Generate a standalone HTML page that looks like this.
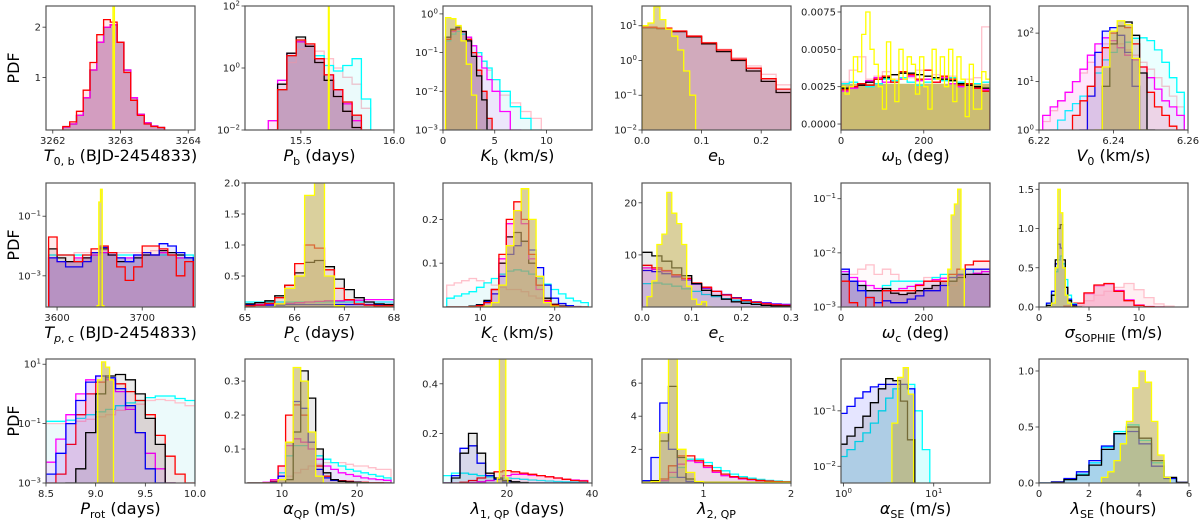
<!DOCTYPE html>
<html><head><meta charset="utf-8"><style>
html,body{margin:0;padding:0;background:#fff;}
svg{display:block;font-family:"DejaVu Sans","Liberation Sans",sans-serif;}
</style></head><body>
<svg id="fig" width="1200" height="520" viewBox="0 0 1200 520" xmlns="http://www.w3.org/2000/svg"></svg>
<script>
// ---------- data (bin centres and PDF values) ----------
const p1x=[3262.2,3262.3,3262.4,3262.5,3262.6,3262.7,3262.8,3262.9,3263.0,3263.1,3263.2,3263.3,3263.4,3263.5,3263.6];
const p1fill=[0.02,0.08,0.25,0.6,1.15,1.7,2.0,2.05,1.7,1.15,0.6,0.27,0.1,0.04,0.01];
const p1red=[0.03,0.12,0.33,0.75,1.3,1.85,2.15,2.1,1.7,1.1,0.55,0.25,0.08,0.03,0.01];
const p1yx=[3262.9];const p1yel=[3];

const p2x=[15.35,15.4,15.45,15.5,15.55,15.6,15.65,15.7,15.75,15.8,15.85,15.9];
const p2black=[0.01,0.3,3,10,5,1.5,0.4,0.12,0.04,0.012,0.004,0.001];
const p2red=[0.01,0.2,2.5,8,6,2,0.6,0.2,0.08,0.03,0.01,0.002];
const p2mag=[0.02,0.4,3,7,5,2,0.6,0.2,0.07,0.02,0.006,0.001];
const p2cyan=[0.01,0.2,2.5,7,5,2.5,1.2,0.8,1.2,2,0.1,0.005];
const p2pink=[0.02,0.2,1.5,4,5,3.5,2,1,0.5,0.3,0.05,0.01];
const p2yx=[15.65];const p2yel=[200];

const p3x=[0.5,1,1.5,2,2.5,3,3.5,4,4.5,5,6,7,8,9];
const p3yel=[0.8,0.75,0.5,0.2,0.05,0.008,0.001,0.0001,0,0,0,0,0,0];
const p3black=[0.25,0.4,0.45,0.35,0.2,0.08,0.025,0.006,0.001,0.0002,0,0,0,0];
const p3red=[0.22,0.38,0.42,0.35,0.22,0.1,0.035,0.01,0.002,0.0004,0,0,0,0];
const p3mag=[0.25,0.35,0.4,0.35,0.25,0.15,0.08,0.04,0.02,0.01,0.003,0.001,0,0];
const p3cyan=[0.2,0.3,0.35,0.3,0.25,0.15,0.1,0.06,0.04,0.02,0.01,0.004,0.002,0.001];
const p3pink=[0.2,0.3,0.33,0.3,0.22,0.15,0.1,0.06,0.035,0.02,0.008,0.005,0.003,0.002];

const p4x=[0.0125,0.0375,0.0625,0.0875,0.1125,0.1375,0.1625,0.1875,0.2125,0.2375];
const p4red=[9,8.5,7,5,3.2,2,1.1,0.6,0.3,0.15];
const p4black=[8.8,8.3,6.8,4.8,3,1.8,1,0.5,0.25,0.12];
const p4pink=[9.5,8.6,7.2,5.2,3.3,2.1,1.2,0.7,0.4,0.2];
const p4yx=[0.005,0.015,0.025,0.035,0.045,0.055,0.065,0.075,0.085,0.095];
const p4yel=[10,12,35,15,8,5,2,0.5,0.1,0.01];

const p5x=[10,30,50,70,90,110,130,150,170,190,210,230,250,270,290,310,330,350];
const p5base=[0.0027,0.0027,0.0027,0.0027,0.0027,0.0027,0.0027,0.0027,0.0027,0.0027,0.0027,0.0027,0.0027,0.0027,0.0027,0.0027,0.0027,0.0027];
const p5red=[0.0023,0.0025,0.0027,0.0026,0.003,0.0032,0.0028,0.0035,0.0033,0.003,0.0036,0.0028,0.0032,0.003,0.0026,0.0027,0.0024,0.0022];
const p5black=[0.0024,0.0025,0.0026,0.0028,0.003,0.0031,0.0033,0.0034,0.0034,0.0033,0.0032,0.0031,0.003,0.0029,0.0027,0.0026,0.0025,0.0024];
const p5cyan=[0.0027,0.0028,0.0026,0.0025,0.0027,0.003,0.0029,0.0031,0.0028,0.0026,0.0028,0.003,0.0029,0.0031,0.0028,0.0026,0.0027,0.0028];
const p5mag=[0.0022,0.0024,0.0026,0.0029,0.0031,0.0028,0.0033,0.003,0.0032,0.0029,0.003,0.0028,0.0031,0.0027,0.0025,0.0026,0.0024,0.0023];
const p5pink=[0.0028,0.0036,0.0045,0.003,0.0032,0.0035,0.003,0.0034,0.0031,0.0036,0.003,0.0033,0.0029,0.0032,0.0028,0.003,0.0031,0.0065];
const p5yx=[5,15,25,35,45,55,65,75,85,95,105,115,125,135,145,155,165,175,185,195,205,215,225,235,245,255,265,275,285,295,305,315,325,335,345,355];
const p5yel=[0.0025,0.002,0.0025,0.0045,0.0035,0.006,0.0075,0.005,0.004,0.0025,0.001,0.0055,0.003,0.0015,0.005,0.003,0.0045,0.004,0.002,0.0045,0.0025,0.001,0.005,0.003,0.0045,0.0025,0.005,0.0015,0.0045,0.003,0.0005,0.004,0.001,0.001,0.0035,0.003];

const p6x=[6.222,6.224,6.226,6.228,6.230,6.232,6.234,6.236,6.238,6.240,6.242,6.244,6.246,6.248,6.250,6.252,6.254,6.256,6.258];
const p6mag=[2,3,4,6,10,18,35,60,80,70,50,35,28,20,12,7,4,3,2];
const p6cyan=[0.8,1,1.6,2.5,3.5,5,8,15,28,40,50,65,78,80,70,45,25,12,6];
const p6blue=[0,0,0,0,0.5,1,5,40,110,130,90,40,8,1,0,0,0,0,0];
const p6black=[0,0,0,0,0,0,0,0.5,8,60,140,170,90,15,1,0,0,0,0];
const p6red=[0,0,0,0.8,2,4,8,20,50,100,140,130,60,20,6,3,2,1.2,1];
const p6pink=[1.5,2.5,4,6,10,15,25,40,60,70,60,45,35,25,18,12,8,5,3];
const p6yel=[0,0,0,0,0,0,0,1,20,110,180,150,30,1,0,0,0,0,0];

const p7x=[3595,3605,3615,3625,3635,3645,3655,3665,3675,3685,3695,3705,3715,3725,3735,3745,3755];
const p7red=[0.02,0.005,0.005,0.003,0.005,0.008,0.01,0.006,0.002,0.0007,0.002,0.01,0.01,0.008,0.005,0.001,0.003];
const p7blue=[0.004,0.003,0.002,0.002,0.003,0.006,0.009,0.006,0.004,0.003,0.005,0.006,0.005,0.012,0.01,0.006,0.004];
const p7black=[0.008,0.004,0.003,0.003,0.004,0.006,0.008,0.005,0.003,0.003,0.004,0.005,0.005,0.007,0.006,0.005,0.004];
const p7cyan=[0.005,0.005,0.005,0.005,0.005,0.005,0.006,0.005,0.005,0.005,0.005,0.005,0.005,0.005,0.005,0.005,0.005];
const p7mag=[0.004,0.003,0.003,0.004,0.004,0.005,0.006,0.005,0.004,0.004,0.005,0.005,0.005,0.006,0.005,0.004,0.004];
const p7pink=[0.005,0.005,0.005,0.006,0.006,0.006,0.007,0.006,0.006,0.006,0.006,0.006,0.007,0.006,0.006,0.005,0.005];
const p7yx=[3648,3650,3652,3654];const p7yel=[0.0001,0.3,0.8,0.0001];

const p8x=[65.1,65.3,65.5,65.7,65.9,66.1,66.3,66.5,66.7,66.9,67.1,67.3,67.5,67.7,67.9];
const p8black=[0.05,0.07,0.1,0.18,0.35,0.55,0.72,0.75,0.65,0.45,0.28,0.15,0.08,0.05,0.04];
const p8red=[0.02,0.03,0.06,0.15,0.35,0.7,1.0,0.95,0.6,0.3,0.12,0.05,0.03,0.02,0.02];
const p8yel=[0,0,0,0.05,0.3,0.5,1.8,2.1,0.5,0.02,0,0,0,0,0];
const p8cyan=[0.08,0.08,0.08,0.08,0.08,0.08,0.08,0.08,0.08,0.08,0.08,0.08,0.08,0.08,0.08];
const p8mag=[0.04,0.04,0.05,0.05,0.06,0.07,0.08,0.09,0.1,0.1,0.11,0.11,0.12,0.12,0.12];
const p8blue=[0.03,0.03,0.03,0.03,0.04,0.04,0.04,0.04,0.04,0.04,0.04,0.04,0.04,0.04,0.04];

const p9x=[6,7,8,9,10,11,12,13,14,15,16,17,18,19,20,21,22,23,24];
const p9red=[0,0,0,0.001,0.003,0.01,0.04,0.12,0.2,0.24,0.2,0.12,0.05,0.015,0.004,0.001,0,0,0];
const p9yel=[0,0,0,0,0,0.002,0.01,0.05,0.14,0.22,0.27,0.2,0.07,0.01,0.002,0,0,0,0];
const p9black=[0,0,0,0.002,0.005,0.015,0.04,0.1,0.16,0.17,0.15,0.1,0.05,0.02,0.006,0.002,0,0,0];
const p9blue=[0,0,0,0.002,0.005,0.012,0.03,0.07,0.12,0.14,0.15,0.13,0.09,0.05,0.02,0.008,0.003,0.001,0];
const p9mag=[0,0,0,0.001,0.003,0.01,0.04,0.11,0.19,0.22,0.19,0.11,0.04,0.012,0.003,0.001,0,0,0];
const p9cyan=[0.02,0.025,0.03,0.035,0.045,0.055,0.065,0.075,0.082,0.085,0.082,0.075,0.065,0.052,0.04,0.03,0.02,0.014,0.01];
const p9pink=[0.05,0.055,0.06,0.065,0.06,0.055,0.05,0.045,0.04,0.04,0.035,0.025,0.02,0.012,0.008,0.005,0.003,0.002,0.001];

const p10x=[0.01,0.03,0.05,0.07,0.09,0.11,0.13,0.15,0.17,0.19,0.21,0.23,0.25,0.27,0.29];
const p10black=[10.5,9.8,8.8,7.5,6,4.5,3.2,2.2,1.5,1,0.7,0.5,0.3,0.2,0.15];
const p10red=[8,7.5,7,6.2,5.5,4.6,3.8,3,2.3,1.7,1.2,0.9,0.6,0.4,0.3];
const p10blue=[7,6.8,6.4,5.8,5.2,4.4,3.6,3,2.4,1.8,1.4,1,0.8,0.6,0.5];
const p10mag=[7.5,7.2,6.8,6,5.3,4.5,3.7,3,2.3,1.7,1.3,0.9,0.7,0.5,0.4];
const p10cyan=[4.5,4.6,4.4,4,3.5,3,2.4,2,1.6,1.3,1,0.8,0.6,0.5,0.4];
const p10yx=[0.015,0.025,0.035,0.045,0.055,0.065,0.075,0.085,0.095,0.105,0.115,0.125,0.135];
const p10yel=[2,5,12,14,22,18,16,12,4,1.5,0.5,1,0];

const p11x=[10,30,50,70,90,110,130,150,170,190,210,230,250,270,290,310,330,350];
const p11blue=[0.005,0.003,0.002,0.0015,0.0012,0.0013,0.0012,0.0012,0.0014,0.0016,0.002,0.002,0.0025,0.0035,0.004,0.005,0.005,0.005];
const p11red=[0.003,0.0012,0.0009,0.0015,0.0008,0.002,0.002,0.002,0.002,0.0025,0.003,0.003,0.003,0.004,0.005,0.006,0.007,0.007];
const p11cyan=[0.004,0.003,0.0025,0.002,0.002,0.0025,0.003,0.003,0.003,0.003,0.003,0.0035,0.004,0.004,0.004,0.005,0.004,0.004];
const p11black=[0.004,0.003,0.0025,0.002,0.002,0.0022,0.0018,0.0017,0.0018,0.002,0.0022,0.0025,0.003,0.003,0.0035,0.004,0.004,0.004];
const p11mag=[0.0045,0.0035,0.003,0.0025,0.0022,0.002,0.002,0.0022,0.0024,0.0026,0.003,0.0032,0.0034,0.0035,0.0038,0.004,0.0042,0.0045];
const p11pink=[0.003,0.004,0.005,0.006,0.004,0.005,0.004,0.003,0.003,0.003,0.0035,0.0035,0.003,0.0025,0.003,0.004,0.005,0.004];
const p11yx=[262,270,278,286,294];const p11yel=[0.005,0.05,0.08,0.15,0.005];

const p12ax=[1.0,1.5,1.75,2.0,2.25,2.5,2.75,3.0,3.5,4.0];
const p12black=[0.02,0.15,0.6,1.0,1.05,0.6,0.25,0.08,0.01,0];
const p12blue=[0.05,0.2,0.55,0.8,0.75,0.5,0.25,0.1,0.03,0];
const p12cyan=[0.05,0.2,0.45,0.6,0.65,0.55,0.35,0.15,0.04,0];
const p12yel=[0,0.05,0.5,1.5,1.2,0.5,0.15,0.05,0,0];
const p12bx=[3,4,5,6,7,8,9,10,11,12];
const p12red=[0.01,0.05,0.18,0.28,0.3,0.2,0.08,0.02,0.005,0];
const p12mag=[0.01,0.05,0.17,0.27,0.29,0.21,0.09,0.025,0.006,0];
const p12px=[4,5,6,7,8,9,10,11,12,13];
const p12pink=[0.02,0.08,0.15,0.2,0.25,0.3,0.22,0.12,0.04,0.01];

const p13x=[8.55,8.65,8.75,8.85,8.95,9.05,9.15,9.25,9.35,9.45,9.55,9.65,9.75,9.85,9.95];
const p13black=[0.0005,0.0008,0.001,0.003,0.05,1,4,4.5,3,1,0.15,0.02,0.001,0,0];
const p13blue=[0.002,0.01,0.1,0.6,2.5,4,3.5,1.5,0.4,0.05,0.003,0.001,0,0,0];
const p13mag=[0.005,0.03,0.2,1,3,4,3,1.2,0.3,0.05,0.01,0.003,0.001,0,0];
const p13red=[0.001,0.002,0.02,0.2,1,2.5,3,2.2,1.2,0.6,0.2,0.04,0.008,0.002,0.001];
const p13cyan=[0.12,0.12,0.13,0.15,0.2,0.25,0.3,0.4,0.5,0.6,0.75,0.85,0.85,0.7,0.6];
const p13pink=[0.1,0.1,0.1,0.12,0.14,0.17,0.2,0.28,0.35,0.45,0.6,0.65,0.6,0.5,0.4];
const p13yx=[8.96,9.0,9.04,9.08,9.12,9.16,9.2,9.24];
const p13yel=[0.0001,0.001,3,12,8,3,0.001,0.0001];

const p14x=[6,7,8,9,10,11,12,13,14,15,16,17,18,19,20,21,22,23,24];
const p14black=[0,0,0,0,0,0.01,0.15,0.33,0.25,0.1,0.03,0.01,0.005,0.003,0.002,0.001,0,0,0];
const p14yel=[0,0,0,0,0.01,0.12,0.34,0.3,0.15,0.02,0,0,0,0,0,0,0,0,0];
const p14blue=[0,0,0,0.002,0.02,0.12,0.24,0.22,0.12,0.04,0.015,0.008,0.005,0.003,0.002,0.001,0,0,0];
const p14red=[0,0,0.001,0.005,0.05,0.2,0.23,0.2,0.12,0.05,0.02,0.01,0.007,0.005,0.003,0.002,0.001,0.001,0];
const p14mag=[0,0,0.002,0.01,0.05,0.11,0.13,0.12,0.1,0.07,0.05,0.04,0.03,0.025,0.02,0.015,0.012,0.01,0.008];
const p14cyan=[0,0,0,0.005,0.03,0.08,0.11,0.11,0.1,0.08,0.07,0.06,0.05,0.04,0.035,0.03,0.025,0.02,0.015];
const p14pink=[0,0,0,0.005,0.01,0.02,0.03,0.04,0.05,0.055,0.06,0.06,0.06,0.055,0.05,0.05,0.045,0.04,0.04];

const p15x=[6,8,10,12,14,16,18,20,22,24,26,28,30,32,34,36,38];
const p15black=[0,0.02,0.12,0.2,0.12,0.04,0.02,0.01,0.005,0.002,0,0,0,0,0,0,0];
const p15blue=[0,0.03,0.14,0.15,0.08,0.03,0.015,0.005,0.002,0,0,0,0,0,0,0,0];
const p15cyan=[0.03,0.04,0.04,0.035,0.03,0.025,0.02,0.02,0.018,0.015,0.012,0.01,0.008,0.006,0.005,0.004,0.003];
const p15red=[0,0,0.003,0.01,0.02,0.04,0.045,0.05,0.045,0.04,0.035,0.03,0.025,0.02,0.015,0.01,0.008];
const p15mag=[0,0,0,0.002,0.005,0.01,0.02,0.03,0.035,0.035,0.032,0.03,0.025,0.02,0.015,0.012,0.01];
const p15yx=[18,18.5,19,19.5,20,20.5];const p15yel=[0.02,0.6,0.6,0.6,0.02,0];

const p16x=[0.35,0.45,0.55,0.65,0.75,0.85,0.95,1.05,1.15,1.25,1.35,1.45,1.55,1.65,1.75,1.85,1.95];
const p16blue=[0.1,1.5,4.8,2,0.3,0.05,0,0,0,0,0,0,0,0,0,0,0];
const p16black=[0,0.1,2.5,5.8,1.5,0.2,0.02,0,0,0,0,0,0,0,0,0,0];
const p16yel=[0,0.05,3,7.5,2,0.6,0.05,0,0,0,0,0,0,0,0,0,0];
const p16red=[0,0,0.2,1,1.6,1.6,1.3,1,0.7,0.5,0.35,0.25,0.18,0.12,0.08,0.05,0.03];
const p16mag=[0,0,0.1,0.6,1.1,1.3,1.2,0.9,0.6,0.4,0.3,0.2,0.15,0.1,0.05,0.03,0.02];
const p16cyan=[0,0,0,0.3,0.9,1.4,1.4,1.2,0.9,0.7,0.5,0.35,0.25,0.18,0.12,0.08,0.05];

const p17x=[1,1.2,1.5,1.8,2.2,2.7,3.2,3.9,4.7,5.6,6.8,8.2,10];
const p17blue=[0.09,0.12,0.17,0.22,0.27,0.3,0.3,0.3,0.3,0.25,0.002,0,0];
const p17black=[0.025,0.035,0.05,0.08,0.14,0.25,0.38,0.35,0.15,0.03,0.002,0,0];
const p17cyan=[0.015,0.02,0.028,0.04,0.06,0.1,0.17,0.25,0.3,0.3,0.1,0.02,0.003];
const p17yx=[3.2,3.7,4.3,4.9,5.6,6.4];const p17yel=[0.005,0.06,0.4,0.6,0.2,0.005];

const p18x=[0.25,0.75,1.25,1.75,2.25,2.75,3.25,3.75,4.25,4.75,5.25,5.75];
const p18blue=[0,0.01,0.04,0.1,0.2,0.33,0.44,0.46,0.35,0.15,0.04,0.005];
const p18black=[0,0.005,0.03,0.07,0.16,0.3,0.44,0.5,0.4,0.2,0.05,0.005];
const p18cyan=[0,0.005,0.03,0.08,0.18,0.32,0.46,0.52,0.38,0.18,0.04,0.003];
const p18yx=[2.625,2.875,3.125,3.375,3.625,3.875,4.125,4.375,4.625,4.875,5.125];
const p18yel=[0.05,0.1,0.2,0.35,0.55,0.85,1.0,0.9,0.55,0.25,0.05];

// ---------- colours ----------
const K='#000000',B='#0000ff',M='#ff00ff',R='#ff0000',C='#00ffff',P='#ffc0cb',Y='#ffff00',LIL='#c8a6cb',OLV='#c2b05c';
const S=(x,y,c,extra)=>Object.assign({x:x,y:y,c:c},extra||{});

// ---------- panel layout ----------
const colL=[46,245,443,642,841,1039], rowT=[6,183,359], PW=149, PH=124;
const sup=s=>`10<tspan baseline-shift="super" font-size="7">${s}</tspan>`;
const lab=(sym,sub,rest,subItalic)=>`<tspan font-style="italic">${sym}</tspan><tspan dy="4" font-size="11"${subItalic?'':''}>${sub}</tspan><tspan dy="-4">${rest}</tspan>`;
const panels=[
 {nm:'t0b',x:[3261.9,3264.1],y:[-0.04,2.42],xt:[3262,3263,3264],xl:['3262','3263','3264'],yt:[1,2],yl:['1','2'],
  lab:lab('T','0, b',' (BJD-2454833)'),
  s:[S(p1x,p1fill,LIL,{solid:1}),S(p1x,p1fill,K),S(p1x,p1fill,M),S(p1x,p1red,R),S(p1yx,p1yel,Y,{w:0.02,nofill:1})]},
 {nm:'pb',x:[15.2,16.0],y:[0.01,100],ly:1,xt:[15.5,16.0],xl:['15.5','16.0'],yt:[0.01,1,100],yl:[sup('−2'),sup('0'),sup('2')],
  lab:lab('P','b',' (days)'),
  s:[S(p2x,p2red,LIL,{solid:1}),S(p2x,p2pink,P),S(p2x,p2cyan,C),S(p2x,p2mag,M),S(p2x,p2black,K),S(p2x,p2red,R),S(p2yx,p2yel,Y,{w:0.004,nofill:1})]},
 {nm:'kb',x:[0,14.4],y:[0.001,1.6],ly:1,xt:[0,5,10],xl:['0','5','10'],yt:[0.001,0.01,0.1,1],yl:[sup('−3'),sup('−2'),sup('−1'),sup('0')],
  lab:lab('K','b',' (km/s)'),
  s:[S(p3x,p3red,LIL,{solid:1}),S(p3x,p3pink,P),S(p3x,p3cyan,C),S(p3x,p3mag,M),S(p3x,p3red,R),S(p3x,p3black,K),S(p3x,p3yel,Y,{fc:OLV})]},
 {nm:'eb',x:[0,0.25],y:[0.01,37],ly:1,xt:[0,0.1,0.2],xl:['0.0','0.1','0.2'],yt:[0.01,0.1,1,10],yl:[sup('−2'),sup('−1'),sup('0'),sup('1')],
  lab:lab('e','b',''),
  s:[S(p4x,p4red,LIL,{solid:1}),S(p4x,p4pink,P),S(p4x,p4black,K),S(p4x,p4red,R),S(p4yx,p4yel,Y,{fc:OLV})]},
 {nm:'omegab',x:[0,360],y:[-0.0004,0.0079],xt:[0,200],xl:['0','200'],yt:[0,0.0025,0.005,0.0075],yl:['0.0000','0.0025','0.0050','0.0075'],
  lab:lab('ω','b',' (deg)'),
  s:[S(p5x,p5base,OLV,{solid:1,so:0.85}),S(p5x,p5pink,P,{nofill:1}),S(p5x,p5cyan,C,{nofill:1}),S(p5x,p5mag,M,{nofill:1}),S(p5x,p5black,K,{nofill:1}),S(p5x,p5red,R,{nofill:1}),S(p5yx,p5yel,Y,{nofill:1})]},
 {nm:'v0',x:[6.22,6.26],y:[1,363],ly:1,xt:[6.22,6.24,6.26],xl:['6.22','6.24','6.26'],yt:[1,10,100],yl:[sup('0'),sup('1'),sup('2')],
  lab:lab('V','0',' (km/s)'),
  s:[S(p6x,p6pink,P),S(p6x,p6cyan,C),S(p6x,p6mag,M),S(p6x,p6blue,B),S(p6x,p6red,R),S(p6x,p6black,K),S(p6x,p6yel,Y,{fc:OLV})]},
 {nm:'tpc',x:[3587,3762],y:[0.00009,1.3],ly:1,xt:[3600,3700],xl:['3600','3700'],yt:[0.001,0.1],yl:[sup('−3'),sup('−1')],
  lab:'<tspan font-style="italic">T</tspan><tspan dy="4" font-size="11" font-style="italic">p</tspan><tspan font-size="11">, c</tspan><tspan dy="-4"> (BJD-2454833)</tspan>',
  s:[S(p7x,p7mag,LIL,{solid:1}),S(p7x,p7pink,P),S(p7x,p7cyan,C),S(p7x,p7mag,M),S(p7x,p7black,K),S(p7x,p7blue,B),S(p7x,p7red,R),S(p7yx,p7yel,Y,{fc:OLV})]},
 {nm:'pc',x:[65,68],y:[0,2.0],xt:[65,66,67,68],xl:['65','66','67','68'],yt:[0.5,1.0,1.5,2.0],yl:['0.5','1.0','1.5','2.0'],
  lab:lab('P','c',' (days)'),
  s:[S(p8x,p8cyan,C),S(p8x,p8mag,M),S(p8x,p8blue,B),S(p8x,p8black,K),S(p8x,p8red,R),S(p8x,p8yel,Y,{fc:OLV})]},
 {nm:'kc',x:[5,25],y:[0,0.283],xt:[10,20],xl:['10','20'],yt:[0.1,0.2],yl:['0.1','0.2'],
  lab:lab('K','c',' (km/s)'),
  s:[S(p9x,p9pink,P),S(p9x,p9cyan,C),S(p9x,p9blue,B),S(p9x,p9black,K),S(p9x,p9mag,M),S(p9x,p9red,R),S(p9x,p9yel,Y,{fc:OLV})]},
 {nm:'ec',x:[0,0.3],y:[0,23.8],xt:[0,0.1,0.2,0.3],xl:['0.0','0.1','0.2','0.3'],yt:[10,20],yl:['10','20'],
  lab:lab('e','c',''),
  s:[S(p10x,p10cyan,C),S(p10x,p10blue,B),S(p10x,p10mag,M),S(p10x,p10red,R),S(p10x,p10black,K),S(p10yx,p10yel,Y,{fc:OLV})]},
 {nm:'omegac',x:[0,360],y:[0.001,0.195],ly:1,xt:[0,200],xl:['0','200'],yt:[0.001,0.01,0.1],yl:[sup('−3'),sup('−2'),sup('−1')],
  lab:lab('ω','c',' (deg)'),
  s:[S(p11x,p11black,LIL,{solid:1}),S(p11x,p11pink,P),S(p11x,p11cyan,C),S(p11x,p11mag,M),S(p11x,p11black,K),S(p11x,p11blue,B),S(p11x,p11red,R),S(p11yx,p11yel,Y,{fc:OLV})]},
 {nm:'sigma-sophie',x:[0,14.9],y:[0,1.58],xt:[0,5,10],xl:['0','5','10'],yt:[0,0.5,1.0,1.5],yl:['0.0','0.5','1.0','1.5'],
  lab:lab('σ','SOPHIE',' (m/s)'),
  s:[S(p12px,p12pink,P,{fo:0.25}),S(p12bx,p12mag,M),S(p12bx,p12red,R,{fc:'#f7a8c0',fo:0.6}),S(p12ax,p12cyan,C),S(p12ax,p12blue,B),S(p12ax,p12black,K),S(p12ax,p12yel,Y,{fc:OLV})]},
 {nm:'prot',x:[8.5,10],y:[0.001,15],ly:1,xt:[8.5,9.0,9.5,10.0],xl:['8.5','9.0','9.5','10.0'],yt:[0.001,0.1,10],yl:[sup('−3'),sup('−1'),sup('1')],
  lab:lab('P','rot',' (days)'),
  s:[S(p13x,p13cyan,C),S(p13x,p13pink,P),S(p13x,p13red,R),S(p13x,p13mag,M),S(p13x,p13blue,B),S(p13x,p13black,K),S(p13yx,p13yel,Y,{fc:OLV})]},
 {nm:'alpha-qp',x:[5.1,24.9],y:[0,0.365],xt:[10,20],xl:['10','20'],yt:[0.1,0.2,0.3],yl:['0.1','0.2','0.3'],
  lab:lab('α','QP',' (m/s)'),
  s:[S(p14x,p14pink,P),S(p14x,p14cyan,C),S(p14x,p14mag,M),S(p14x,p14red,R),S(p14x,p14blue,B),S(p14x,p14black,K),S(p14x,p14yel,Y,{fc:OLV})]},
 {nm:'lambda1-qp',x:[5,40],y:[0,0.5],xt:[20,40],xl:['20','40'],yt:[0.2,0.4],yl:['0.2','0.4'],
  lab:lab('λ','1, QP',' (days)'),
  s:[S(p15x,p15cyan,C),S(p15x,p15mag,M),S(p15x,p15red,R),S(p15x,p15blue,B),S(p15x,p15black,K),S(p15yx,p15yel,Y,{fc:OLV})]},
 {nm:'lambda2-qp',x:[0.297,2],y:[-0.04,7.46],xt:[1,2],xl:['1','2'],yt:[2,4,6],yl:['2','4','6'],
  lab:lab('λ','2, QP',''),
  s:[S(p16x,p16cyan,C),S(p16x,p16mag,M),S(p16x,p16red,R),S(p16x,p16blue,B),S(p16x,p16black,K),S(p16x,p16yel,Y,{fc:OLV})]},
 {nm:'alpha-se',x:[0.94,42],lx:1,y:[0.005,0.86],ly:1,xt:[1,10],xl:[sup('0'),sup('1')],yt:[0.01,0.1],yl:[sup('−2'),sup('−1')],
  lab:lab('α','SE',' (m/s)'),
  s:[S(p17x,p17cyan,C,{fo:0.15}),S(p17x,p17blue,B,{fo:0.1}),S(p17x,p17black,K,{fo:0.1}),S(p17yx,p17yel,Y,{fc:OLV})]},
 {nm:'lambda-se',x:[0,5.96],y:[0,1.107],xt:[0,2,4,6],xl:['0','2','4','6'],yt:[0,0.5,1.0],yl:['0.0','0.5','1.0'],
  lab:lab('λ','SE',' (hours)'),
  s:[S(p18x,p18cyan,C,{fo:0.2}),S(p18x,p18blue,B,{fo:0.1}),S(p18x,p18black,K,{fo:0.08}),S(p18yx,p18yel,Y,{fc:OLV})]}
];

// ---------- rendering ----------
const svg=document.getElementById('fig');
const NS='http://www.w3.org/2000/svg';
function mk(tag,attrs,parent){const e=document.createElementNS(NS,tag);for(const k in attrs)e.setAttribute(k,attrs[k]);(parent||svg).appendChild(e);return e;}
const defs=mk('defs',{});

panels.forEach((p,i)=>{
  const L=colL[i%6],T=rowT[Math.floor(i/6)];
  const lx=v=>p.lx?Math.log10(v):v, ly=v=>p.ly?Math.log10(Math.max(v,p.y[0]*0.5)):v;
  const X0=lx(p.x[0]),X1=lx(p.x[1]),Y0=ly(p.y[0]),Y1=ly(p.y[1]);
  const sx=v=>L+(lx(v)-X0)/(X1-X0)*PW;
  const sy=v=>T+PH-(ly(v)-Y0)/(Y1-Y0)*PH;
  const g=mk('g',{});
  
  
  const cp=mk('clipPath',{id:'cp'+i},defs);
  mk('rect',{x:L,y:T,width:PW,height:PH},cp);
  const plot=mk('g',{'clip-path':'url(#cp'+i+')'},g);
  
  
  const base=T+PH+2;
  p.s.forEach((s,k)=>{
    const n=s.x.length, e=[];
    if(n===1){e.push(s.x[0]-s.w/2,s.x[0]+s.w/2);}
    else{
      const tr=p.lx?Math.log10:(v=>v), inv=p.lx?(v=>Math.pow(10,v)):(v=>v);
      const t=s.x.map(tr);
      e.push(inv(t[0]-(t[1]-t[0])/2));
      for(let j=0;j<n-1;j++)e.push(inv((t[j]+t[j+1])/2));
      e.push(inv(t[n-1]+(t[n-1]-t[n-2])/2));
    }
    let d=`M${sx(e[0]).toFixed(1)},${base}`;
    for(let j=0;j<n;j++){const yy=sy(s.y[j]).toFixed(1);d+=`L${sx(e[j]).toFixed(1)},${yy}L${sx(e[j+1]).toFixed(1)},${yy}`;}
    d+=`L${sx(e[n]).toFixed(1)},${base}`;
    const nmBase=p.nm+'-series-'+k;
    if(!s.nofill){
      const op=s.solid?(s.so||0.6):(s.fo!==undefined?s.fo:(s.fc?0.6:0.08));
      const f=mk('path',{d:d+'Z',fill:s.solid?s.c:(s.fc||s.c),'fill-opacity':op,stroke:'none'},plot);
      
      
    }
    if(!s.solid){
      const l=mk('path',{d:d,fill:'none',stroke:s.c,'stroke-width':1.3,'stroke-linejoin':'miter'},plot);
      
      
    }
  });
  const fr=mk('rect',{x:L,y:T,width:PW,height:PH,fill:'none',stroke:'#555','stroke-width':1.2},g);
  
  
  p.xt.forEach((v,j)=>{
    const x=sx(v);
    mk('line',{x1:x,x2:x,y1:T+PH,y2:T+PH+3.5,stroke:'#333','stroke-width':0.8},g);
    const t=mk('text',{x:x,y:T+PH+14,'font-size':10,'text-anchor':'middle',fill:'#222'},g);
    t.innerHTML=p.xl[j];
    
    
  });
  p.yt.forEach((v,j)=>{
    const y=sy(v);
    mk('line',{x1:L-3.5,x2:L,y1:y,y2:y,stroke:'#333','stroke-width':0.8},g);
    const t=mk('text',{x:L-5,y:y+3.5,'font-size':10,'text-anchor':'end',fill:'#222'},g);
    t.innerHTML=p.yl[j];
    
    
  });
  const xl=mk('text',{x:L+PW/2,y:T+PH+31,'font-size':16,'text-anchor':'middle',fill:'#000'},g);
  xl.innerHTML=p.lab;
  
  
});
[68,245,421].forEach((cy,r)=>{
  const t=mk('text',{x:0,y:0,'font-size':16,'text-anchor':'middle',transform:`translate(19,${cy}) rotate(-90)`});
  t.textContent='PDF';
  
  
});
</script>
</body></html>
